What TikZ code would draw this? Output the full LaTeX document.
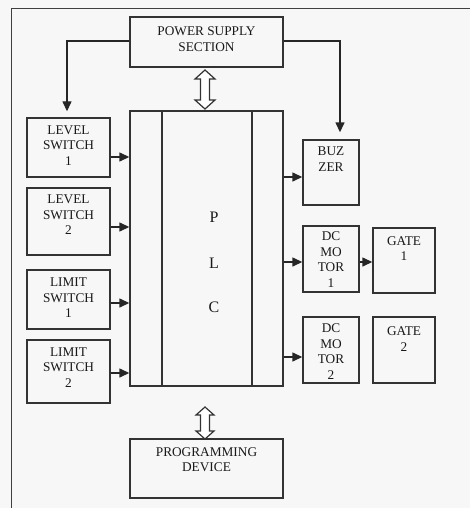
\documentclass[tikz,border=0pt]{standalone}
\usepackage{fontspec}
\setmainfont{Liberation Serif}
\usetikzlibrary{arrows.meta,calc}
\begin{document}
\begin{tikzpicture}[x=1pt,y=-1pt,
  box/.style={draw=black!80, line width=1.4pt, inner sep=0pt},
  lbl/.style={font=\fontsize{13.3}{15.5}\selectfont, align=center, text=black!90, inner sep=0pt},
  big/.style={font=\fontsize{16}{18}\selectfont, text=black!90, inner sep=0pt},
  arr/.style={-{Triangle[length=10pt,width=9pt]}, line width=1.4pt, draw=black!85},
  hollow/.style={draw=black!80, line width=1.2pt, fill=white, line join=miter}]
\useasboundingbox (0,0) rectangle (470,508);
\fill[black!3] (0,0) rectangle (470,508);
\draw[black!75, line width=1pt] (470,9) -- (11,9) -- (11,508);

% power supply
\node[box, minimum width=153, minimum height=50,
  label={[lbl,yshift=3pt]center:{POWER SUPPLY\\SECTION}}] (ps) at (206.5,42) {};

% PLC
\node[box, minimum width=153, minimum height=275] (plc) at (206.5,248.5) {};
\draw[box] (162,111) -- (162,386);
\draw[box] (252,111) -- (252,386);
\node[big] (p) at (214,217) {P};
\node[big] (l) at (214,263) {L};
\node[big] (c) at (214,307) {C};

% left inputs
\node[box, minimum width=83, minimum height=59,
  label={[lbl,yshift=2pt]center:{LEVEL\\SWITCH\\1}}] (ls1) at (68.5,147.5) {};
\node[box, minimum width=83, minimum height=67,
  label={[lbl,yshift=6.5pt]center:{LEVEL\\SWITCH\\2}}] (ls2) at (68.5,221.5) {};
\node[box, minimum width=83, minimum height=59,
  label={[lbl,yshift=1.5pt]center:{LIMIT\\SWITCH\\1}}] (lm1) at (68.5,299.5) {};
\node[box, minimum width=83, minimum height=63,
  label={[lbl,yshift=4pt]center:{LIMIT\\SWITCH\\2}}] (lm2) at (68.5,371.5) {};

% right outputs
\node[box, minimum width=56, minimum height=65,
  label={[lbl,yshift=13.5pt]center:{BUZ\\ZER}}] (buz) at (331,172.5) {};
\node[box, minimum width=56, minimum height=66,
  label={[lbl,yshift=-0.5pt]center:{DC\\MO\\TOR\\1}}] (dc1) at (331,259) {};
\node[box, minimum width=62, minimum height=65,
  label={[lbl,yshift=12pt]center:{GATE\\1}}] (g1) at (404,260.5) {};
\node[box, minimum width=56, minimum height=66,
  label={[lbl,yshift=-1.5pt]center:{DC\\MO\\TOR\\2}}] (dc2) at (331,350) {};
\node[box, minimum width=62, minimum height=66,
  label={[lbl,yshift=11pt]center:{GATE\\2}}] (g2) at (404,350) {};

% programming device
\node[box, minimum width=153, minimum height=59,
  label={[lbl,yshift=9pt]center:{PROGRAMMING\\DEVICE}}] (prog) at (206.5,468.5) {};

% power supply arrows
\draw[arr] ([yshift=1pt]ps.west) -| ([xshift=-1.5pt,yshift=6pt]ls1.north);
\draw[arr] ([yshift=1pt]ps.east) -| ([xshift=9pt,yshift=7pt]buz.north);

% input arrows
\draw[arr] ([yshift=-9.5pt]ls1.east) -- ([yshift=-9.5pt]ls1.east -| plc.west);
\draw[arr] ([yshift=-5.5pt]ls2.east) -- ([yshift=-5.5pt]ls2.east -| plc.west);
\draw[arr] ([yshift=-3.5pt]lm1.east) -- ([yshift=-3.5pt]lm1.east -| plc.west);
\draw[arr] ([yshift=-1.5pt]lm2.east) -- ([yshift=-1.5pt]lm2.east -| plc.west);

% output arrows
\draw[arr] ([yshift=-4.5pt]buz.west -| plc.east) -- ([yshift=-4.5pt]buz.west);
\draw[arr] ([yshift=-3pt]dc1.west -| plc.east) -- ([yshift=-3pt]dc1.west);
\draw[arr] ([yshift=-3pt]dc1.east) -- ([yshift=-3pt]dc1.east -| g1.west);
\draw[arr] ([yshift=-7pt]dc2.west -| plc.east) -- ([yshift=-7pt]dc2.west);

% hollow double arrows
\draw[hollow] (205,70) -- (195,79) -- (200.5,79) -- (200.5,100) -- (195,100) -- (205,109)
  -- (215,100) -- (209.5,100) -- (209.5,79) -- (215,79) -- cycle;
\draw[hollow] (205,407) -- (196,415) -- (200.5,415) -- (200.5,431) -- (196,431) -- (205,439)
  -- (214,431) -- (209.5,431) -- (209.5,415) -- (214,415) -- cycle;
\end{tikzpicture}
\end{document}
